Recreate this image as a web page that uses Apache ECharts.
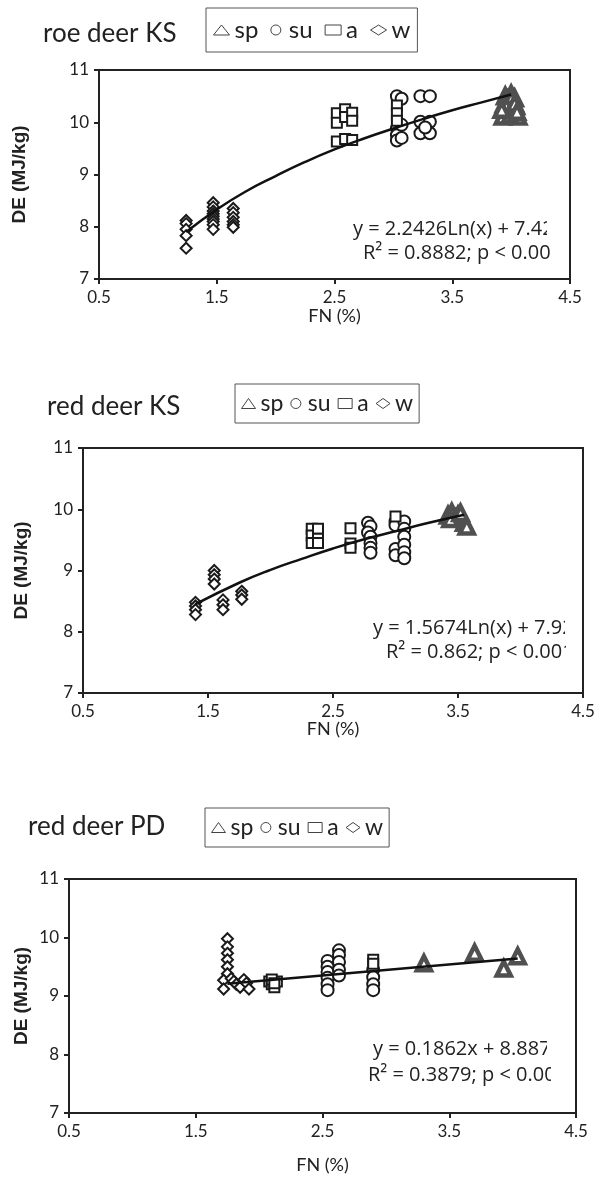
<!DOCTYPE html>
<html>
<head>
<meta charset="utf-8">
<script src="https://cdn.jsdelivr.net/npm/echarts@6/dist/echarts.min.js"></script>
<style>
html,body{margin:0;padding:0;background:#fff;}
#c{width:602px;height:1180px;}
</style>
</head>
<body>
<div id="c"></div>
<script>
// ---- data (FN %, DE MJ/kg) ----
var panelTitles = ['roe deer KS', 'red deer KS', 'red deer PD'];
var seasonNames = ['sp', 'su', 'a', 'w'];
var xTicks = [0.5, 1.5, 2.5, 3.5, 4.5];
var yTicks = [7, 8, 9, 10, 11];

// roe deer KS
var roeKS_sp = [[3.95,10.5],[4.0,10.54],[4.03,10.46],[3.97,10.43],[4.01,10.39],[3.94,10.35],[4.04,10.31],[3.98,10.27],[4.02,10.22],[3.95,10.18],[4.06,10.11],[3.93,10.11],[3.99,10.13],[4.0,10.45],[3.96,10.3],[4.03,10.36],[4.05,10.2],[3.92,10.24]];
var roeKS_su = [[3.03,10.5],[3.07,10.45],[3.03,9.88],[3.03,9.75],[3.03,9.65],[3.07,9.95],[3.07,9.7],[3.23,10.5],[3.31,10.5],[3.23,10.01],[3.31,10.01],[3.23,9.79],[3.31,9.79],[3.27,9.9]];
var roeKS_a  = [[2.52,10.17],[2.52,9.99],[2.52,9.63],[2.59,10.25],[2.59,10.1],[2.59,9.68],[2.65,10.18],[2.65,10.03],[2.65,9.66],[3.03,10.32],[3.03,10.17],[3.03,10.03]];
var roeKS_w  = [[1.24,8.12],[1.24,8.06],[1.24,7.95],[1.24,7.83],[1.24,7.59],[1.47,8.46],[1.47,8.38],[1.47,8.3],[1.47,8.25],[1.47,8.2],[1.47,8.15],[1.47,8.1],[1.47,8.04],[1.47,7.95],[1.64,8.35],[1.64,8.27],[1.64,8.18],[1.64,8.1],[1.64,8.04],[1.64,7.99]];
var roeKS_fitX = [1.24,1.5,1.75,2.0,2.25,2.5,2.75,3.0,3.25,3.5,3.75,4.0];
var roeKS_fitY = [7.90,8.33,8.68,8.97,9.24,9.48,9.69,9.88,10.06,10.23,10.38,10.53];

// red deer KS
var redKS_sp = [[3.42,9.9],[3.45,9.95],[3.48,9.85],[3.5,9.9],[3.53,9.85],[3.55,9.78],[3.57,9.72],[3.44,9.84],[3.52,9.94]];
var redKS_su = [[2.78,9.78],[2.8,9.72],[2.78,9.62],[2.8,9.55],[2.8,9.45],[2.8,9.37],[2.8,9.29],[3.0,9.8],[3.0,9.74],[3.0,9.35],[3.0,9.25],[3.07,9.8],[3.07,9.68],[3.07,9.55],[3.07,9.42],[3.07,9.3],[3.07,9.2]];
var redKS_a  = [[2.33,9.68],[2.33,9.57],[2.33,9.45],[2.38,9.68],[2.38,9.52],[2.38,9.45],[2.64,9.69],[2.64,9.44],[2.64,9.37],[3.0,9.88]];
var redKS_w  = [[1.4,8.48],[1.4,8.42],[1.4,8.36],[1.4,8.28],[1.55,9.0],[1.55,8.93],[1.55,8.86],[1.55,8.78],[1.62,8.52],[1.62,8.44],[1.62,8.36],[1.77,8.66],[1.77,8.6],[1.77,8.53]];
var redKS_fitX = [1.4,1.75,2.0,2.25,2.5,2.75,3.0,3.25,3.55];
var redKS_fitY = [8.45,8.80,9.01,9.19,9.36,9.51,9.64,9.77,9.91];

// red deer PD
var redPD_sp = [[3.3,9.56],[3.7,9.74],[3.93,9.47],[4.04,9.68]];
var redPD_su = [[2.54,9.6],[2.54,9.5],[2.54,9.41],[2.54,9.31],[2.54,9.2],[2.54,9.1],[2.63,9.78],[2.63,9.7],[2.63,9.58],[2.63,9.45],[2.63,9.35],[2.9,9.45],[2.9,9.32],[2.9,9.2],[2.9,9.1]];
var redPD_a  = [[2.08,9.25],[2.1,9.2],[2.12,9.15],[2.14,9.25],[2.1,9.28],[2.12,9.22],[2.9,9.62],[2.9,9.55]];
var redPD_w  = [[1.75,9.98],[1.75,9.84],[1.75,9.73],[1.75,9.62],[1.75,9.5],[1.75,9.38],[1.72,9.27],[1.72,9.12],[1.78,9.3],[1.8,9.25],[1.82,9.2],[1.85,9.15],[1.88,9.28],[1.9,9.22],[1.92,9.12]];
var redPD_fitX = [1.75,4.04];
var redPD_fitY = [9.21,9.64];

var eqLines = [
  ['y = 2.2426Ln(x) + 7.42', 'R\u00b2 = 0.8882; p < 0.001'],
  ['y = 1.5674Ln(x) + 7.92', 'R\u00b2 = 0.862; p < 0.001'],
  ['y = 0.1862x + 8.887', 'R\u00b2 = 0.3879; p < 0.001']
];

// ---- layout ----
var FONT = 'Lato, "Open Sans", sans-serif';
var EQFONT = '"Open Sans", Lato, sans-serif';
var grids = [
  {left: 99, top: 70, width: 471, height: 209},
  {left: 83, top: 448, width: 500, height: 245},
  {left: 69, top: 879, width: 507, height: 234}
];
var yNameGap = [70, 52, 38];
var xNameGap = [28, 27, 43];
var legendPos = [
  {left: 206, top: 8, font: 24, pad: [10, 7, 10, 7], iw: 16, gap: 12},
  {left: 235, top: 384, font: 23, pad: [8, 6, 8, 6], iw: 14, gap: 7},
  {left: 205, top: 808, font: 23, pad: [8, 6, 8, 6], iw: 14, gap: 7}
];
var titlePos = [[43, 34], [47, 407], [28, 827]];
var eqPos = [
  {x: 353, y1: 229, y2: 253, x2: 363, clip1: 547, clip2: 551},
  {x: 373, y1: 628, y2: 652, x2: 386, clip1: 565, clip2: 566},
  {x: 373, y1: 1049, y2: 1075, x2: 368, clip1: 547, clip2: 551}
];

var panels = [
  [roeKS_sp, roeKS_su, roeKS_a, roeKS_w, roeKS_fitX, roeKS_fitY],
  [redKS_sp, redKS_su, redKS_a, redKS_w, redKS_fitX, redKS_fitY],
  [redPD_sp, redPD_su, redPD_a, redPD_w, redPD_fitX, redPD_fitY]
];

var symbols = ['triangle', 'circle', 'rect', 'diamond'];
var symSize = [14, 12, 10, 11];
var borderCol = ['#505050', '#1a1a1a', '#1a1a1a', '#1a1a1a'];
var borderW = [4.5, 2, 2, 2];

var option = {
  animation: false,
  backgroundColor: '#fff',
  textStyle: {fontFamily: FONT},
  grid: [], xAxis: [], yAxis: [], series: [], legend: [], graphic: []
};

grids.forEach(function (g, i) {
  option.grid.push({left: g.left, top: g.top, width: g.width, height: g.height,
    show: true, borderColor: '#222', borderWidth: 2, backgroundColor: 'transparent'});
  option.xAxis.push({
    gridIndex: i, type: 'value', min: 0.5, max: 4.5, interval: 0.5,
    name: 'FN (%)', nameLocation: 'middle', nameGap: xNameGap[i], nameMoveOverlap: false,
    nameTextStyle: {fontSize: 18, color: '#222', fontFamily: FONT},
    axisLine: {show: true, onZero: false, lineStyle: {color: '#222', width: 2}},
    axisTick: {show: true, inside: false, length: 5, customValues: xTicks, lineStyle: {color: '#222', width: 2}},
    axisLabel: {show: true, margin: 10, fontSize: 17, color: '#222', fontFamily: FONT,
      customValues: xTicks, formatter: function (v) { return v.toFixed(1); }},
    splitLine: {show: false}
  });
  option.yAxis.push({
    gridIndex: i, type: 'value', min: 7, max: 11, interval: 1,
    name: 'DE (MJ/kg)', nameLocation: 'middle', nameGap: yNameGap[i], nameRotate: 90, nameMoveOverlap: false,
    nameTextStyle: {fontSize: 19, fontWeight: 'bold', color: '#222', fontFamily: 'Liberation Sans, Arial, sans-serif'},
    axisLine: {show: true, onZero: false, lineStyle: {color: '#222', width: 2}},
    axisTick: {show: true, inside: false, length: 5, customValues: yTicks, lineStyle: {color: '#222', width: 2}},
    axisLabel: {show: true, margin: 10, fontSize: 17, color: '#222', fontFamily: FONT, customValues: yTicks},
    splitLine: {show: false}
  });
  var p = panels[i];
  for (var s = 0; s < 4; s++) {
    option.series.push({
      type: 'scatter', name: seasonNames[s], xAxisIndex: i, yAxisIndex: i,
      symbol: symbols[s], symbolSize: symSize[s], z: 2,
      itemStyle: {color: '#fff', borderColor: borderCol[s], borderWidth: borderW[s], opacity: 1},
      data: p[s]
    });
  }
  var fit = p[4].map(function (x, k) { return [x, p[5][k]]; });
  option.series.push({
    type: 'line', name: 'trend', xAxisIndex: i, yAxisIndex: i, z: 3,
    smooth: true, symbol: 'none', lineStyle: {color: '#111', width: 2.5},
    data: fit
  });
  var lp = legendPos[i];
  option.legend.push({
    left: lp.left, top: lp.top, orient: 'horizontal',
    borderColor: '#555', borderWidth: 1, padding: lp.pad,
    itemWidth: lp.iw, itemHeight: 10, itemGap: lp.gap,
    textStyle: {fontSize: lp.font, color: '#222', fontFamily: FONT},
    selectedMode: false,
    data: seasonNames.map(function (n, k) {
      return {name: n, icon: ['triangle', 'circle', 'rect', 'diamond'][k],
        itemStyle: {color: '#fff', borderColor: '#444', borderWidth: 1}};
    })
  });
  option.graphic.push({
    type: 'text', x: titlePos[i][0], y: titlePos[i][1],
    style: {text: panelTitles[i], fontSize: 26, fill: '#222', fontFamily: FONT, textVerticalAlign: 'middle'}
  });
  var e = eqPos[i];
  var right = g.left + g.width - 2;
  option.graphic.push({
    type: 'text', x: e.x, y: e.y1, z: 10,
    style: {text: eqLines[i][0], fontSize: 20, fill: '#222', fontFamily: EQFONT, textVerticalAlign: 'middle'}
  });
  option.graphic.push({
    type: 'text', x: e.x2, y: e.y2, z: 10,
    style: {text: eqLines[i][1], fontSize: 20, fill: '#222', fontFamily: EQFONT, textVerticalAlign: 'middle'}
  });
  option.graphic.push({
    type: 'rect', z: 11,
    shape: {x: e.clip1, y: e.y1 - 12, width: right - e.clip1, height: 22},
    style: {fill: '#fff'}
  });
  option.graphic.push({
    type: 'rect', z: 11,
    shape: {x: e.clip2, y: e.y2 - 12, width: right - e.clip2, height: 24},
    style: {fill: '#fff'}
  });
});

var chart = echarts.init(document.getElementById('c'), null, {renderer: 'canvas'});
chart.setOption(option);
</script>
</body>
</html>
